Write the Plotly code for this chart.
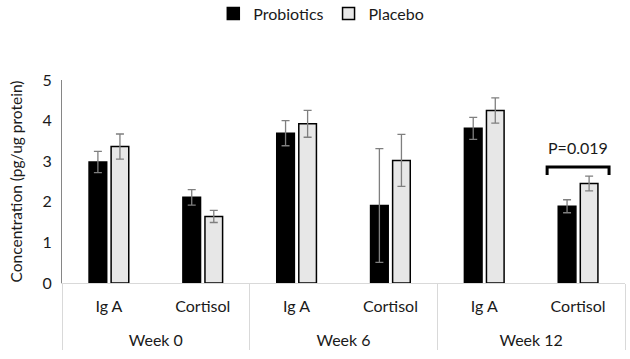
import plotly.graph_objects as go

weeks = ["Week 0", "Week 0", "Week 6", "Week 6", "Week 12", "Week 12"]
markers = ["Ig A", "Cortisol", "Ig A", "Cortisol", "Ig A", "Cortisol"]
probiotics = [2.98, 2.11, 3.69, 1.91, 3.81, 1.89]
probiotics_err = [0.26, 0.19, 0.31, 1.40, 0.27, 0.16]
placebo = [3.36, 1.64, 3.92, 3.02, 4.25, 2.45]
placebo_err = [0.31, 0.15, 0.33, 0.64, 0.31, 0.18]
p_label = "P=0.019"
p_index = 5  # Week 12 Cortisol

FONT = "Lato"
TXT = "#1a1a1a"
# a spacer line under the inner labels pushes the week labels lower, as in the reference
x = [weeks, [m + "<br><span style='font-size:18px'> </span>" for m in markers]]

fig = go.Figure()
fig.add_trace(go.Bar(
    name="Probiotics", x=x, y=probiotics,
    marker=dict(color="#000000", line=dict(color="#000000", width=1.5)),
    error_y=dict(type="data", array=probiotics_err, color="#7f7f7f", thickness=1.3, width=4),
))
fig.add_trace(go.Bar(
    name="Placebo", x=x, y=placebo,
    marker=dict(color="#e7e7e7", line=dict(color="#000000", width=1.5)),
    error_y=dict(type="data", array=placebo_err, color="#7f7f7f", thickness=1.3, width=4),
))

# significance bracket
top = max(probiotics[p_index] + probiotics_err[p_index], placebo[p_index] + placebo_err[p_index])
y0 = top + 0.03
y1 = y0 + 0.2
half = 0.33
fig.add_trace(go.Scatter(
    x=[p_index - half, p_index - half, p_index + half, p_index + half],
    y=[y0, y1, y1, y0], xaxis="x2", mode="lines",
    line=dict(color="#000000", width=3), showlegend=False, hoverinfo="skip",
))
fig.add_annotation(x=p_index, y=y1 + 0.2, xref="x2", yref="y", text=p_label,
                   showarrow=False, yanchor="bottom",
                   font=dict(family=FONT, size=16, color=TXT))

fig.update_layout(
    width=630, height=359,
    margin=dict(l=62, r=5, t=80, b=76, autoexpand=False),
    plot_bgcolor="white", paper_bgcolor="white",
    barmode="group", bargap=0.53, bargroupgap=0.2,
    font=dict(family=FONT, size=16, color=TXT),
    legend=dict(orientation="h", xref="container", yref="container",
                x=0.51, xanchor="center", y=0.962, yanchor="middle",
                font=dict(family=FONT, size=16, color=TXT), itemwidth=30),
    xaxis=dict(type="multicategory", showline=True, linecolor="#d9d9d9", linewidth=1,
               ticks="", showdividers=True, dividercolor="#d9d9d9", dividerwidth=1,
               ticklabelstandoff=9,
               tickfont=dict(family=FONT, size=16, color=TXT)),
    xaxis2=dict(overlaying="x", range=[-0.5, 5.5], visible=False),
    yaxis=dict(range=[0, 5], dtick=1, showgrid=False, zeroline=False,
               showline=True, linecolor="#868686", linewidth=1, ticks="",
               ticklabelstandoff=6,
               tickfont=dict(family=FONT, size=16, color=TXT),
               title=dict(text="Concentration (pg/ug protein)",
                          font=dict(family=FONT, size=15.5, color=TXT), standoff=16)),
)

fig.write_html("out.html")
